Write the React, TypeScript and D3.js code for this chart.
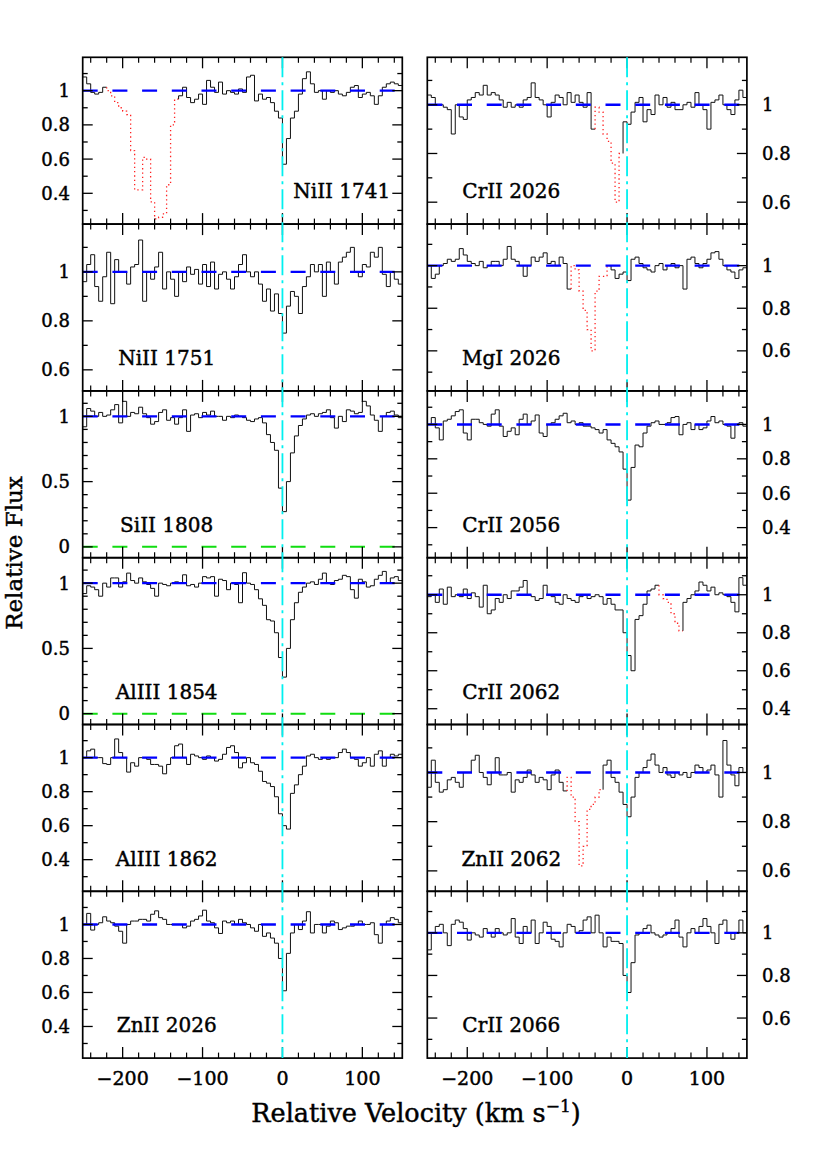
import React from "react";
import * as d3 from "d3";

// ---------- data ----------
const velocityStart = -250;
const velocityEnd = 150;
const binWidth = 5;
const binStarts: number[] = d3.range(velocityStart, velocityEnd, binWidth);

const fluxNiII1741 = [
  1.08, 1.04, 0.99, 0.98, 0.99, 1.02,
  1.0, 0.97, 0.93, 0.9, 0.88, 0.86, 0.65, 0.42, 0.42, 0.61, 0.6, 0.35, 0.25, 0.26, 0.28, 0.45, 0.8, 0.95,
  0.97, 1.02, 0.96, 0.93, 0.95, 0.98, 0.92, 1.06, 1.02, 0.99, 1.05, 0.98, 1.0, 0.99, 0.98, 1.01, 0.99, 1.08, 1.09, 0.94, 0.98, 0.95, 0.96, 0.93, 0.88, 0.84,
  0.57, 0.72, 0.84, 0.88, 0.98, 1.07, 1.11, 1.04, 0.99, 1.0, 0.95, 1.0, 0.99, 1.0, 0.98, 0.97, 0.99, 1.02, 1.03, 0.96, 0.98, 0.99, 0.97, 0.92, 0.97, 1.02, 1.04, 1.05, 1.04, 1.03,
];
const fluxCrII2026 = [
  1.04, 1.03, 1.0, 1.0, 0.99, 0.98, 0.88, 1.0, 0.95, 0.94, 1.02, 1.03, 1.05, 1.04, 1.08, 1.04, 1.05, 1.04, 1.02, 0.99, 1.01,
  0.99, 1.0, 0.99, 1.02, 1.03, 1.09, 1.03, 1.02, 1.0, 0.95, 1.01, 1.04, 1.03, 1.0, 1.05, 1.01, 1.04, 1.01, 0.99, 1.05, 0.9,
  0.99, 0.97, 0.88, 0.85, 0.76, 0.6, 0.8,
  0.93, 0.92, 0.97, 1.01, 1.03, 0.93, 0.98, 0.96, 1.04, 1.0, 1.03, 0.99, 1.01, 0.98, 0.98, 1.0, 1.01, 0.99, 1.05, 1.0, 0.98,
  0.9, 1.01, 1.02, 1.04, 1.0, 0.98, 0.96, 1.02, 1.06, 1.03,
];
const fluxNiII1751 = [
  0.96, 1.03, 1.07, 0.94, 0.88, 0.98, 1.08, 0.87, 1.05, 1.0, 1.0, 0.95, 1.02, 1.03, 1.13, 0.88, 1.0, 0.97, 1.02, 1.08,
  0.93, 1.0, 0.97, 0.9, 1.0, 0.96, 1.02, 0.99, 1.01, 0.95, 1.03, 0.94, 1.04, 0.93, 0.99, 1.0, 0.97, 0.93, 0.98, 1.03,
  1.07, 1.0, 0.98, 1.0, 0.95, 0.88, 0.93, 0.84, 0.91, 0.83, 0.75, 0.86, 0.92, 0.9, 0.83, 0.94, 0.98, 1.03, 1.0, 1.03,
  0.9, 1.04, 1.0, 0.95, 1.04, 1.06, 1.08, 1.1, 1.0, 0.98, 1.03, 1.02, 1.08, 1.06, 1.1, 0.99, 0.94, 1.0, 0.97, 0.95,
];
const fluxMgI2026 = [
  1.0, 0.94, 0.96, 1.0, 1.01, 1.03, 1.02, 1.03, 1.08, 1.05, 1.02, 1.01, 1.0, 1.02, 0.99, 1.0, 1.02, 1.02, 1.0, 1.03,
  1.09, 1.03, 1.02, 1.0, 0.95, 1.0, 1.04, 1.02, 1.04, 1.06, 1.01, 1.02, 1.0, 1.04, 1.01, 0.89,
  1.0, 0.98, 0.88, 0.79, 0.7, 0.6, 0.88, 0.95, 0.95, 1.0,
  0.98, 0.94, 0.96, 0.97, 0.93, 1.03, 1.04, 1.01, 0.99, 0.98, 0.97, 1.0, 1.01, 0.98, 1.0, 1.01, 0.99, 1.0, 0.89, 1.03,
  1.04, 1.01, 0.99, 1.01, 1.03, 1.06, 1.066, 1.03, 1.0, 0.98, 0.97, 0.94, 0.98, 0.99,
];
const fluxSiII1808 = [
  0.92, 1.06, 1.04, 1.0, 1.03, 1.0, 1.01, 1.05, 1.09, 0.95, 1.115, 1.0, 1.03, 1.02, 1.07, 1.02, 0.99, 0.94, 0.96, 1.03,
  1.05, 0.97, 0.99, 0.94, 0.99, 1.05, 0.885, 1.01, 1.02, 0.99, 1.03, 1.01, 1.04, 1.0, 1.0, 0.97, 1.0, 0.99, 1.01, 1.0,
  0.99, 0.97, 0.96, 0.98, 0.99, 0.95, 0.86, 0.8, 0.74, 0.45, 0.27, 0.5, 0.72, 0.85, 0.93, 0.98, 1.01, 1.02, 1.0, 1.02,
  1.03, 1.05, 0.99, 0.91, 1.0, 0.96, 1.05, 1.04, 1.02, 1.03, 1.115, 1.08, 1.01, 0.97, 0.885, 1.0, 1.03, 1.04, 1.01, 0.99,
];
const fluxCrII2056 = [
  1.0, 1.04, 0.98, 0.91, 1.02, 1.03, 1.05, 1.075, 1.085, 0.95, 0.91, 1.03, 1.03, 1.01, 1.0, 0.99, 1.06, 1.085, 0.99, 0.93,
  0.96, 0.98, 0.94, 1.03, 1.06, 1.0, 1.02, 1.055, 0.95, 0.93, 1.0, 1.01, 1.03, 1.05, 1.065, 1.01, 1.02, 1.0, 1.01, 0.99,
  0.99, 0.98, 0.97, 0.95, 0.97, 0.91, 0.89, 0.87, 0.84, 0.74, 0.56, 0.75, 0.88, 0.87, 0.95, 0.99, 1.01, 1.02, 1.0, 1.0,
  1.01, 1.04, 1.046, 0.94, 1.0, 1.01, 0.97, 1.0, 0.97, 0.98, 1.02, 1.046, 1.01, 1.02, 1.0, 0.99, 0.92, 1.0, 1.01, 0.99,
];
const fluxAlIII1854 = [
  0.92, 0.98, 0.97, 0.95, 0.9, 1.0, 0.97, 1.04, 1.04, 0.97, 1.01, 1.077, 1.02, 1.0, 1.04, 1.01, 0.99, 0.96, 0.9, 1.0,
  0.99, 0.98, 1.0, 1.01, 1.0, 1.064, 0.98, 0.99, 0.97, 1.0, 1.05, 1.04, 1.05, 0.9, 1.03, 1.02, 0.95, 1.0, 0.99, 0.85,
  1.08, 1.0, 0.99, 0.95, 0.88, 0.83, 0.72, 0.71, 0.62, 0.43, 0.28, 0.5, 0.72, 0.85, 0.93, 0.97, 1.0, 1.01, 0.99, 1.03,
  1.077, 1.0, 0.99, 1.02, 1.03, 1.06, 1.05, 0.95, 0.885, 1.03, 1.01, 0.97, 0.98, 1.03, 1.06, 1.09, 1.0, 1.04, 1.05, 1.02,
];
const fluxCrII2062 = [
  0.99, 1.0, 0.96, 1.03, 0.95, 1.04, 0.99, 1.0, 0.99, 1.03, 0.98, 1.01, 0.99, 0.935, 1.05, 0.9, 0.92, 0.98, 0.96, 1.0,
  0.98, 1.02, 1.02, 1.04, 1.075, 1.0, 0.99, 0.97, 0.98, 1.05, 1.0, 0.99, 0.96, 0.95, 1.0, 0.98, 0.97, 0.96, 0.99, 1.0,
  0.98, 0.99, 1.0, 0.99, 0.95, 0.98, 0.95, 0.92, 0.92, 0.8, 0.68, 0.6, 0.87, 0.89, 0.95, 1.02, 1.03, 1.05,
  1.0, 0.98, 0.96, 0.9, 0.85, 0.81,
  0.96, 0.98, 1.0, 1.02, 1.067, 1.05, 1.02, 1.04, 1.0, 1.01, 1.0, 0.99, 0.96, 0.91, 1.09, 1.05,
];
const fluxAlIII1862 = [
  1.0, 1.04, 1.05, 1.0, 1.0, 0.965, 0.96, 1.0, 1.11, 1.03, 1.0, 0.915, 0.97, 0.95, 1.0, 1.0, 0.99, 0.96, 0.96, 0.95,
  0.905, 0.96, 1.0, 1.07, 1.08, 1.0, 0.96, 1.02, 1.01, 1.0, 0.99, 1.01, 1.0, 0.98, 0.99, 1.02, 1.06, 1.07, 1.03, 0.94,
  0.97, 1.0, 0.97, 0.96, 0.92, 0.86, 0.85, 0.83, 0.77, 0.67, 0.6, 0.58, 0.79, 0.84, 0.9, 0.95, 1.01, 1.02, 1.0, 0.99,
  1.0, 0.99, 1.0, 1.0, 1.03, 1.05, 1.03, 1.0, 0.99, 0.95, 0.97, 1.0, 0.95, 1.02, 1.04, 0.95, 1.0, 1.02, 1.01, 1.02,
];
const fluxZnII2062 = [
  0.94, 1.05, 0.96, 0.92, 0.93, 0.97, 0.98, 0.96, 0.94, 1.0, 1.0, 1.05, 1.07, 1.0, 0.98, 0.95, 1.0, 1.06, 0.99, 0.99,
  1.0, 0.92, 0.97, 0.96, 0.98, 1.01, 0.99, 0.96, 0.98, 0.97, 0.93, 0.99, 1.01, 0.96, 0.925,
  0.98, 0.9, 0.8, 0.62, 0.7, 0.85, 0.87, 0.9, 0.93,
  1.03, 1.05, 0.98, 0.96, 0.92, 0.87, 0.82, 0.9, 0.98, 1.0, 1.02, 1.05, 1.075, 1.03, 1.0, 1.02, 0.99, 0.98, 1.0, 0.99,
  1.0, 0.98, 1.0, 1.03, 1.02, 1.0, 1.01, 1.03, 0.99, 0.9, 1.13, 1.03, 0.99, 0.946, 1.02, 1.0,
];
const fluxZnII2026 = [
  1.0, 1.065, 0.967, 1.0, 1.01, 1.045, 1.02, 1.01, 0.99, 0.96, 0.89, 1.0, 1.02, 1.02, 1.03, 1.03, 1.02, 1.06, 1.08, 1.04,
  1.03, 1.0, 1.0, 1.0, 1.0, 0.98, 0.99, 1.02, 1.03, 1.05, 1.084, 1.02, 1.01, 0.98, 0.947, 1.02, 1.01, 1.02, 1.0, 1.03,
  1.01, 1.0, 0.98, 0.96, 1.0, 0.93, 0.95, 0.92, 0.89, 0.8, 0.61, 0.83, 0.95, 1.0, 0.97, 1.02, 1.075, 0.95, 1.0, 1.0,
  0.95, 0.99, 1.02, 1.01, 0.97, 0.98, 0.99, 0.99, 1.0, 1.02, 1.0, 1.0, 1.01, 0.94, 0.89, 1.0, 1.02, 1.04, 1.03, 1.01,
];
const fluxCrII2066 = [
  0.92, 1.0, 1.03, 1.04, 1.0, 0.94, 1.04, 1.06, 1.05, 1.02, 0.966, 1.0, 0.99, 0.98, 1.02, 1.0, 0.98, 1.02, 1.0, 0.99,
  1.0, 1.067, 0.98, 0.95, 1.03, 1.0, 1.06, 0.95, 1.0, 1.05, 1.03, 0.97, 0.96, 0.934, 1.0, 1.04, 1.03, 1.0, 1.01, 1.06,
  1.075, 1.0, 1.083, 1.0, 0.934, 0.98, 0.96, 0.96, 0.95, 0.8, 0.72, 0.86, 0.99, 1.0, 1.02, 1.036, 1.0, 0.99, 0.98, 0.99,
  1.0, 1.02, 1.06, 0.98, 0.934, 1.0, 1.02, 1.0, 1.03, 1.067, 1.03, 1.0, 0.95, 1.04, 1.06, 1.0, 0.97, 1.0, 1.06, 1.0,
];

const panelIons = [
  "NiII 1741", "CrII 2026",
  "NiII 1751", "MgI 2026",
  "SiII 1808", "CrII 2056",
  "AlIII 1854", "CrII 2062",
  "AlIII 1862", "ZnII 2062",
  "ZnII 2026", "CrII 2066",
];
const panelFluxes = [
  fluxNiII1741, fluxCrII2026,
  fluxNiII1751, fluxMgI2026,
  fluxSiII1808, fluxCrII2056,
  fluxAlIII1854, fluxCrII2062,
  fluxAlIII1862, fluxZnII2062,
  fluxZnII2026, fluxCrII2066,
];
const panelYMin = [0.22, 0.51, 0.514, 0.412, -0.083, 0.225, -0.083, 0.317, 0.214, 0.517, 0.214, 0.412];
const panelYMax = 1.195;
// velocity ranges drawn as a blended (other) transition, red dotted
const panelBlends: ([number, number] | null)[] = [
  [-220, -130], [-40, -5],
  null, [-70, -20],
  null, null,
  null, [40, 70],
  null, [-75, -30],
  null, null,
];
const xMajorTicks = [-200, -100, 0, 100];
const xMinorTicks = [-240, -220, -180, -160, -140, -120, -80, -60, -40, -20, 20, 40, 60, 80, 120, 140];
const xTickLabels = ["\u2212200", "\u2212100", "0", "100"];

type Pt = [number, number];

function buildSegments(flux: number[], blend: [number, number] | null) {
  const n = flux.length;
  const ranges: { red: boolean; i0: number; i1: number }[] = [];
  if (blend) {
    const b0 = binStarts.indexOf(blend[0]);
    const b1 = binStarts.indexOf(blend[1]);
    ranges.push({ red: false, i0: 0, i1: b0 - 1 });
    ranges.push({ red: true, i0: b0, i1: b1 - 1 });
    ranges.push({ red: false, i0: b1, i1: n - 1 });
  } else {
    ranges.push({ red: false, i0: 0, i1: n - 1 });
  }
  return ranges.map((r) => {
    const pts: Pt[] = [];
    if (r.i0 > 0) pts.push([binStarts[r.i0], flux[r.i0 - 1]]);
    for (let i = r.i0; i <= r.i1; i++) pts.push([binStarts[i], flux[i]]);
    pts.push([binStarts[r.i1] + binWidth, flux[r.i1]]);
    return { red: r.red, pts };
  });
}

function fmt(t: number) {
  if (Math.abs(t - 1) < 1e-6) return "1";
  if (Math.abs(t) < 1e-6) return "0";
  return t.toFixed(1);
}

export default function App() {
  const W = 830;
  const H = 1176;
  const colX = [82.7, 427.3];
  const pw = 319.6;
  const top0 = 57.3;
  const ph = 166.8;
  const FONT = "DejaVu Serif";
  const nRows = 6;
  const textStroke = { stroke: "#000", strokeWidth: 0.45 };

  const panels = panelIons.map((ion, p) => {
    const col = p % 2;
    const row = Math.floor(p / 2);
    const x0 = colX[col];
    const y0 = top0 + row * ph;
    const ymin = panelYMin[p];
    const xs = d3.scaleLinear().domain([velocityStart, velocityEnd]).range([x0, x0 + pw]);
    const ys = d3.scaleLinear().domain([ymin, panelYMax]).range([y0 + ph, y0]);
    const line = d3
      .line<Pt>()
      .x((d) => xs(d[0]))
      .y((d) => ys(d[1]))
      .curve(d3.curveStepAfter);
    const segs = buildSegments(panelFluxes[p], panelBlends[p]);
    const majorStep = ymin < 0 ? 0.5 : 0.2;
    const yt = d3
      .range(Math.ceil(ymin * 10 - 1e-6), Math.floor(panelYMax * 10 + 1e-6) + 1)
      .map((k) => k / 10)
      .filter((t) => ys(t) > y0 + 1 && ys(t) < y0 + ph - 1);
    const isMajor = (t: number) => Math.abs(t / majorStep - Math.round(t / majorStep)) < 1e-6;
    const clipId = `clip${p}`;
    const labelY = y0 + ph - 25.8;
    return (
      <g key={p}>
        <defs>
          <clipPath id={clipId}>
            <rect x={x0} y={y0} width={pw} height={ph} />
          </clipPath>
        </defs>
        <g clipPath={`url(#${clipId})`}>
          {segs.map((s, i) => (
            <path
              key={i}
              d={line(s.pts) || ""}
              fill="none"
              stroke={s.red ? "#ff2020" : "#111"}
              strokeWidth={s.red ? 1.3 : 1}
              strokeDasharray={s.red ? "1.3 3" : undefined}
            />
          ))}
          <line x1={x0} x2={x0 + pw} y1={ys(1)} y2={ys(1)} stroke="#0000ff" strokeWidth={2.4} strokeDasharray="15 14.7" />
          {ymin < 0 && (
            <line x1={x0} x2={x0 + pw} y1={ys(0)} y2={ys(0)} stroke="#11dd11" strokeWidth={2} strokeDasharray="15 14.7" />
          )}
        </g>
        {xMinorTicks.map((t) => (
          <g key={"xm" + t}>
            <line x1={xs(t)} x2={xs(t)} y1={y0 + ph} y2={y0 + ph - 5.5} stroke="#000" strokeWidth={1.2} />
            <line x1={xs(t)} x2={xs(t)} y1={y0} y2={y0 + 5.5} stroke="#000" strokeWidth={1.2} />
          </g>
        ))}
        {xMajorTicks.map((t) => (
          <g key={"xM" + t}>
            <line x1={xs(t)} x2={xs(t)} y1={y0 + ph} y2={y0 + ph - 11} stroke="#000" strokeWidth={1.3} />
            <line x1={xs(t)} x2={xs(t)} y1={y0} y2={y0 + 11} stroke="#000" strokeWidth={1.3} />
          </g>
        ))}
        {yt.map((t) => {
          const L = isMajor(t) ? 10 : 5;
          return (
            <g key={"y" + t}>
              <line x1={x0} x2={x0 + L} y1={ys(t)} y2={ys(t)} stroke="#000" strokeWidth={1.3} />
              <line x1={x0 + pw} x2={x0 + pw - L} y1={ys(t)} y2={ys(t)} stroke="#000" strokeWidth={1.3} />
            </g>
          );
        })}
        {yt.filter(isMajor).map((t) => (
          <text
            key={"yl" + t}
            x={col === 0 ? 70 : 762}
            y={ys(t)}
            dy="0.36em"
            textAnchor={col === 0 ? "end" : "start"}
            fontFamily={FONT}
            fontSize={18}
            {...textStroke}
          >
            {fmt(t)}
          </text>
        ))}
        {row === nRows - 1 &&
          xMajorTicks.map((t, i) => (
            <text
              key={"xl" + t}
              x={xs(t)}
              y={y0 + ph + 27}
              textAnchor="middle"
              fontFamily={FONT}
              fontSize={19}
              {...textStroke}
            >
              {xTickLabels[i]}
            </text>
          ))}
        <text
          x={p === 0 ? x0 + 307.5 : x0 + 84}
          y={labelY}
          textAnchor={p === 0 ? "end" : "middle"}
          fontFamily={FONT}
          fontSize={20}
          {...textStroke}
        >
          {ion}
        </text>
        <rect x={x0} y={y0} width={pw} height={ph} fill="none" stroke="#000" strokeWidth={1.7} />
      </g>
    );
  });

  const cyan = colX.map((x0, c) => {
    const xs = d3.scaleLinear().domain([velocityStart, velocityEnd]).range([x0, x0 + pw]);
    return (
      <line
        key={"cy" + c}
        x1={xs(0)}
        x2={xs(0)}
        y1={top0}
        y2={top0 + nRows * ph}
        stroke="#00f0f0"
        strokeWidth={1.8}
        strokeDasharray="20 5 3 5"
      />
    );
  });

  return (
    <svg
      width={W}
      height={H}
      viewBox={`0 0 ${W} ${H}`}
      style={{ position: "absolute", left: 0, top: 0, background: "#fff" }}
    >
      <rect x={0} y={0} width={W} height={H} fill="#fff" />
      {panels}
      {cyan}
      <text x={416} y={1121.7} textAnchor="middle" fontFamily={FONT} fontSize={25.5} {...textStroke}>
        Relative Velocity (km s
        <tspan fontSize={17} dy={-10}>{"\u22121"}</tspan>
        <tspan dy={10}>)</tspan>
      </text>
      <text
        transform="translate(22,553) rotate(-90)"
        textAnchor="middle"
        fontFamily={FONT}
        fontSize={23}
        {...textStroke}
      >
        Relative Flux
      </text>
    </svg>
  );
}
